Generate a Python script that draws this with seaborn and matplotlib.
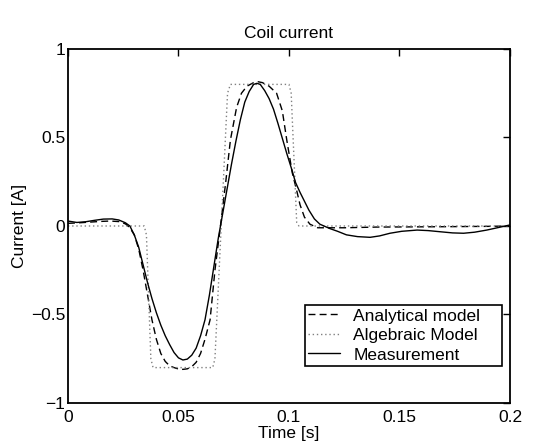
import numpy as np
import pandas as pd
import matplotlib
matplotlib.use('Agg')
import matplotlib.pyplot as plt
import seaborn as sns

# Values
t_meas = [0.000, 0.004, 0.008, 0.012, 0.016, 0.020, 0.023, 0.026, 0.028, 0.030,
          0.032, 0.034, 0.036, 0.038, 0.040, 0.042, 0.044, 0.046, 0.048, 0.050,
          0.052, 0.054, 0.056, 0.058, 0.060, 0.062, 0.064, 0.066, 0.068, 0.070,
          0.072, 0.074, 0.076, 0.078, 0.080, 0.082, 0.084, 0.0855, 0.087, 0.089,
          0.091, 0.093, 0.095, 0.097, 0.099, 0.101, 0.103, 0.105, 0.107, 0.109,
          0.1115, 0.114, 0.1186, 0.122, 0.126, 0.131, 0.1367, 0.141, 0.1457, 0.151,
          0.158, 0.163, 0.168, 0.174, 0.179, 0.184, 0.1895, 0.195, 0.200]
i_meas = [0.028, 0.020, 0.024, 0.032, 0.039, 0.040, 0.034, 0.018, 0.000, -0.05,
          -0.12, -0.22, -0.32, -0.41, -0.49, -0.56, -0.62, -0.67, -0.715, -0.745,
          -0.757, -0.752, -0.73, -0.69, -0.62, -0.53, -0.39, -0.23, -0.07, 0.07,
          0.21, 0.35, 0.48, 0.60, 0.70, 0.76, 0.80, 0.806, 0.80, 0.765,
          0.72, 0.66, 0.58, 0.495, 0.41, 0.33, 0.245, 0.19, 0.14, 0.09,
          0.04, 0.01, -0.015, -0.03, -0.05, -0.06, -0.064, -0.056, -0.041, -0.03,
          -0.023, -0.026, -0.032, -0.039, -0.041, -0.035, -0.023, -0.008, 0.006]

t_anal = [0.000, 0.005, 0.010, 0.015, 0.019, 0.023, 0.026, 0.028, 0.030, 0.032,
          0.034, 0.036, 0.038, 0.040, 0.042, 0.044, 0.046, 0.048, 0.050, 0.052,
          0.054, 0.056, 0.058, 0.060, 0.062, 0.0643, 0.0665, 0.069, 0.0714, 0.0735,
          0.0763, 0.0785, 0.081, 0.084, 0.086, 0.088, 0.091, 0.0944, 0.097, 0.099,
          0.1015, 0.1035, 0.105, 0.107, 0.1095, 0.113, 0.125, 0.140, 0.170, 0.190,
          0.200]
i_anal = [0.015, 0.018, 0.022, 0.026, 0.028, 0.025, 0.012, -0.01, -0.05, -0.13,
          -0.25, -0.39, -0.53, -0.64, -0.72, -0.765, -0.79, -0.80, -0.808, -0.81,
          -0.807, -0.795, -0.77, -0.72, -0.64, -0.53, -0.25, 0.0, 0.25, 0.486,
          0.67, 0.75, 0.79, 0.81, 0.815, 0.81, 0.79, 0.75, 0.65, 0.486,
          0.30, 0.20, 0.12, 0.05, 0.01, -0.01, -0.01, -0.006, -0.004, -0.002,
          0.0]

t_alg = [0.000, 0.0345, 0.0355, 0.0375, 0.0385, 0.0655, 0.0665, 0.0722, 0.0735,
         0.1000, 0.1010, 0.1035, 0.1045, 0.200]
i_alg = [0.0, 0.0, -0.05, -0.75, -0.8, -0.8, -0.75, 0.75, 0.8,
         0.8, 0.75, 0.02, 0.0, 0.0]

x_ticks = [0, 0.05, 0.1, 0.15, 0.2]
x_labels = ['0', '0.05', '0.1', '0.15', '0.2']
y_ticks = [-1, -0.5, 0, 0.5, 1]
y_labels = ['\u22121', '\u22120.5', '0', '0.5', '1']

df_meas = pd.DataFrame({'t': t_meas, 'i': i_meas})
df_anal = pd.DataFrame({'t': t_anal, 'i': i_anal})
df_alg = pd.DataFrame({'t': t_alg, 'i': i_alg})

sns.set_style('white')
plt.rcParams['font.family'] = ['Liberation Sans', 'DejaVu Sans']
plt.rcParams['font.size'] = 12.5
plt.rcParams['text.color'] = 'black'
plt.rcParams['axes.labelcolor'] = 'black'
plt.rcParams['xtick.color'] = 'black'
plt.rcParams['ytick.color'] = 'black'

fig = plt.figure(figsize=(5.34, 4.43), dpi=100)
ax = fig.add_axes([0.1273, 0.0903, 0.8277, 0.7991])

sns.lineplot(data=df_anal, x='t', y='i', ax=ax, color='black', lw=1.0,
             linestyle=(0, (5, 3)), sort=False, estimator=None, label='Analytical model')
sns.lineplot(data=df_alg, x='t', y='i', ax=ax, color='0.5', lw=1.0,
             linestyle=(0, (1, 2)), sort=False, estimator=None, label='Algebraic Model')
sns.lineplot(data=df_meas, x='t', y='i', ax=ax, color='black', lw=1.0,
             sort=False, estimator=None, label='Measurement')

ax.set_xlim(0, 0.2)
ax.set_ylim(-1, 1)
ax.set_xticks(x_ticks)
ax.set_xticklabels(x_labels)
ax.set_yticks(y_ticks)
ax.set_yticklabels(y_labels)
ax.tick_params(direction='in', length=5, width=1, top=True, right=True,
               labelsize=12.5, color='black', labelcolor='black')
ax.tick_params(axis='x', pad=5)
ax.tick_params(axis='y', pad=2)
for s in ax.spines.values():
    s.set_color('black')
    s.set_linewidth(1.3)

ax.set_title('Coil current', fontsize=12.5, pad=8, color='black')
ax.set_xlabel('Time [s]', fontsize=12.5, labelpad=1)
ax.set_ylabel('Current [A]', fontsize=12.5, labelpad=3)

leg = ax.legend(loc='lower left', bbox_to_anchor=(0.536, 0.1045, 0.446, 0.19),
                mode='expand', fontsize=12.5,
                frameon=True, fancybox=False, framealpha=1, edgecolor='black',
                handlelength=1.8, handletextpad=0.8, labelspacing=0.25,
                borderpad=0.2, borderaxespad=0)
leg.get_frame().set_linewidth(1.2)
for txt in leg.get_texts():
    txt.set_color('black')

fig.savefig('out.png', dpi=100)
